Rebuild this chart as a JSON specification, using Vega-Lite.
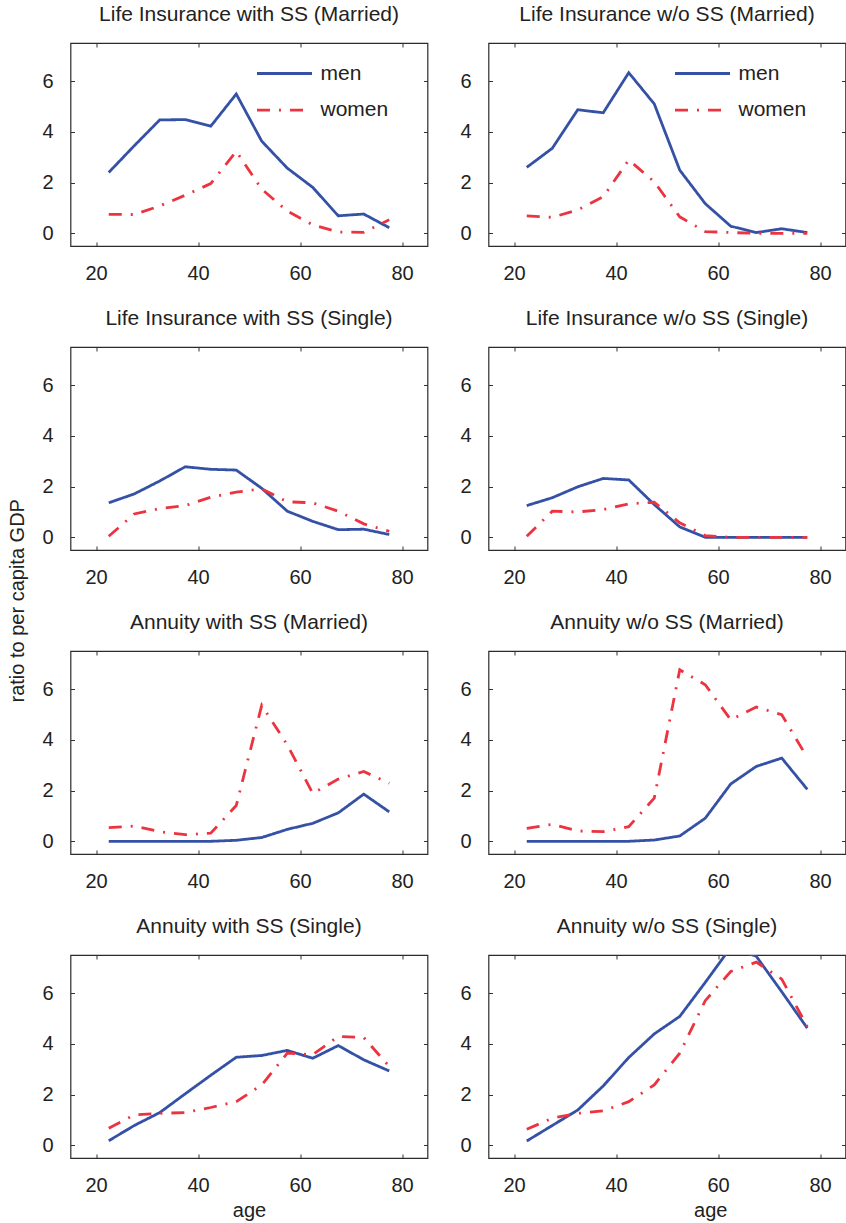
{
  "$schema": "https://vega.github.io/schema/vega-lite/v6.json",
  "padding": {"left": 6.5, "top": 2, "right": 0, "bottom": 3},
  "background": "white",
  "config": {
    "font": "Liberation Sans",
    "view": {"stroke": "#2b2b2b", "strokeWidth": 1.2},
    "axis": {"grid": false, "domain": false, "tickSize": -4, "tickColor": "#333333", "tickWidth": 1, "labelFontSize": 20, "labelColor": "#222222", "titleFontSize": 20, "titleColor": "#222222", "titleFontWeight": "normal", "labelFont": "Liberation Sans", "titleFont": "Liberation Sans"},
    "title": {"fontSize": 21, "fontWeight": "normal", "color": "#222222", "baseline": "alphabetic", "offset": 18, "font": "Liberation Sans"},
    "legend": {"orient": "none", "legendX": 185, "legendY": 20, "title": null, "symbolType": "stroke", "symbolSize": 3025, "symbolStrokeWidth": 2.8, "labelFontSize": 21, "labelColor": "#222222", "labelOffset": 7, "clipHeight": 21, "rowPadding": 14.6, "padding": 0, "labelFont": "Liberation Sans"}
  },
  "datasets": {
    "d": [
      {"p":1,"sex":"men","age":22.5,"v":2.40},{"p":1,"sex":"men","age":27.5,"v":3.45},{"p":1,"sex":"men","age":32.5,"v":4.47},{"p":1,"sex":"men","age":37.5,"v":4.48},{"p":1,"sex":"men","age":42.5,"v":4.22},{"p":1,"sex":"men","age":47.5,"v":5.49},{"p":1,"sex":"men","age":52.5,"v":3.63},{"p":1,"sex":"men","age":57.5,"v":2.57},{"p":1,"sex":"men","age":62.5,"v":1.81},{"p":1,"sex":"men","age":67.5,"v":0.69},{"p":1,"sex":"men","age":72.5,"v":0.76},{"p":1,"sex":"men","age":77.5,"v":0.22},
      {"p":1,"sex":"women","age":22.5,"v":0.75},{"p":1,"sex":"women","age":27.5,"v":0.74},{"p":1,"sex":"women","age":32.5,"v":1.08},{"p":1,"sex":"women","age":37.5,"v":1.50},{"p":1,"sex":"women","age":42.5,"v":1.96},{"p":1,"sex":"women","age":47.5,"v":3.23},{"p":1,"sex":"women","age":52.5,"v":1.74},{"p":1,"sex":"women","age":57.5,"v":0.88},{"p":1,"sex":"women","age":62.5,"v":0.33},{"p":1,"sex":"women","age":67.5,"v":0.05},{"p":1,"sex":"women","age":72.5,"v":0.04},{"p":1,"sex":"women","age":77.5,"v":0.53},
      {"p":2,"sex":"men","age":22.5,"v":2.60},{"p":2,"sex":"men","age":27.5,"v":3.35},{"p":2,"sex":"men","age":32.5,"v":4.87},{"p":2,"sex":"men","age":37.5,"v":4.75},{"p":2,"sex":"men","age":42.5,"v":6.33},{"p":2,"sex":"men","age":47.5,"v":5.10},{"p":2,"sex":"men","age":52.5,"v":2.49},{"p":2,"sex":"men","age":57.5,"v":1.17},{"p":2,"sex":"men","age":62.5,"v":0.28},{"p":2,"sex":"men","age":67.5,"v":0.03},{"p":2,"sex":"men","age":72.5,"v":0.18},{"p":2,"sex":"men","age":77.5,"v":0.03},
      {"p":2,"sex":"women","age":22.5,"v":0.69},{"p":2,"sex":"women","age":27.5,"v":0.63},{"p":2,"sex":"women","age":32.5,"v":0.92},{"p":2,"sex":"women","age":37.5,"v":1.44},{"p":2,"sex":"women","age":42.5,"v":2.89},{"p":2,"sex":"women","age":47.5,"v":2.03},{"p":2,"sex":"women","age":52.5,"v":0.65},{"p":2,"sex":"women","age":57.5,"v":0.07},{"p":2,"sex":"women","age":62.5,"v":0.03},{"p":2,"sex":"women","age":67.5,"v":0.0},{"p":2,"sex":"women","age":72.5,"v":0.0},{"p":2,"sex":"women","age":77.5,"v":0.0},
      {"p":3,"sex":"men","age":22.5,"v":1.36},{"p":3,"sex":"men","age":27.5,"v":1.71},{"p":3,"sex":"men","age":32.5,"v":2.22},{"p":3,"sex":"men","age":37.5,"v":2.78},{"p":3,"sex":"men","age":42.5,"v":2.68},{"p":3,"sex":"men","age":47.5,"v":2.65},{"p":3,"sex":"men","age":52.5,"v":1.93},{"p":3,"sex":"men","age":57.5,"v":1.03},{"p":3,"sex":"men","age":62.5,"v":0.63},{"p":3,"sex":"men","age":67.5,"v":0.30},{"p":3,"sex":"men","age":72.5,"v":0.32},{"p":3,"sex":"men","age":77.5,"v":0.11},
      {"p":3,"sex":"women","age":22.5,"v":0.04},{"p":3,"sex":"women","age":27.5,"v":0.92},{"p":3,"sex":"women","age":32.5,"v":1.13},{"p":3,"sex":"women","age":37.5,"v":1.25},{"p":3,"sex":"women","age":42.5,"v":1.58},{"p":3,"sex":"women","age":47.5,"v":1.78},{"p":3,"sex":"women","age":52.5,"v":1.91},{"p":3,"sex":"women","age":57.5,"v":1.40},{"p":3,"sex":"women","age":62.5,"v":1.36},{"p":3,"sex":"women","age":67.5,"v":1.03},{"p":3,"sex":"women","age":72.5,"v":0.53},{"p":3,"sex":"women","age":77.5,"v":0.24},
      {"p":4,"sex":"men","age":22.5,"v":1.25},{"p":4,"sex":"men","age":27.5,"v":1.56},{"p":4,"sex":"men","age":32.5,"v":1.99},{"p":4,"sex":"men","age":37.5,"v":2.32},{"p":4,"sex":"men","age":42.5,"v":2.26},{"p":4,"sex":"men","age":47.5,"v":1.29},{"p":4,"sex":"men","age":52.5,"v":0.41},{"p":4,"sex":"men","age":57.5,"v":0.0},{"p":4,"sex":"men","age":62.5,"v":0.0},{"p":4,"sex":"men","age":67.5,"v":0.0},{"p":4,"sex":"men","age":72.5,"v":0.0},{"p":4,"sex":"men","age":77.5,"v":0.0},
      {"p":4,"sex":"women","age":22.5,"v":0.04},{"p":4,"sex":"women","age":27.5,"v":1.03},{"p":4,"sex":"women","age":32.5,"v":1.00},{"p":4,"sex":"women","age":37.5,"v":1.09},{"p":4,"sex":"women","age":42.5,"v":1.32},{"p":4,"sex":"women","age":47.5,"v":1.38},{"p":4,"sex":"women","age":52.5,"v":0.57},{"p":4,"sex":"women","age":57.5,"v":0.07},{"p":4,"sex":"women","age":62.5,"v":0.0},{"p":4,"sex":"women","age":67.5,"v":0.0},{"p":4,"sex":"women","age":72.5,"v":0.0},{"p":4,"sex":"women","age":77.5,"v":0.0},
      {"p":5,"sex":"men","age":22.5,"v":0.0},{"p":5,"sex":"men","age":27.5,"v":0.0},{"p":5,"sex":"men","age":32.5,"v":0.0},{"p":5,"sex":"men","age":37.5,"v":0.0},{"p":5,"sex":"men","age":42.5,"v":0.0},{"p":5,"sex":"men","age":47.5,"v":0.04},{"p":5,"sex":"men","age":52.5,"v":0.15},{"p":5,"sex":"men","age":57.5,"v":0.47},{"p":5,"sex":"men","age":62.5,"v":0.71},{"p":5,"sex":"men","age":67.5,"v":1.12},{"p":5,"sex":"men","age":72.5,"v":1.86},{"p":5,"sex":"men","age":77.5,"v":1.16},
      {"p":5,"sex":"women","age":22.5,"v":0.54},{"p":5,"sex":"women","age":27.5,"v":0.60},{"p":5,"sex":"women","age":32.5,"v":0.38},{"p":5,"sex":"women","age":37.5,"v":0.26},{"p":5,"sex":"women","age":42.5,"v":0.32},{"p":5,"sex":"women","age":47.5,"v":1.41},{"p":5,"sex":"women","age":52.5,"v":5.36},{"p":5,"sex":"women","age":57.5,"v":3.80},{"p":5,"sex":"women","age":62.5,"v":1.89},{"p":5,"sex":"women","age":67.5,"v":2.45},{"p":5,"sex":"women","age":72.5,"v":2.75},{"p":5,"sex":"women","age":77.5,"v":2.29},
      {"p":6,"sex":"men","age":22.5,"v":0.0},{"p":6,"sex":"men","age":27.5,"v":0.0},{"p":6,"sex":"men","age":32.5,"v":0.0},{"p":6,"sex":"men","age":37.5,"v":0.0},{"p":6,"sex":"men","age":42.5,"v":0.0},{"p":6,"sex":"men","age":47.5,"v":0.05},{"p":6,"sex":"men","age":52.5,"v":0.21},{"p":6,"sex":"men","age":57.5,"v":0.91},{"p":6,"sex":"men","age":62.5,"v":2.26},{"p":6,"sex":"men","age":67.5,"v":2.95},{"p":6,"sex":"men","age":72.5,"v":3.28},{"p":6,"sex":"men","age":77.5,"v":2.05},
      {"p":6,"sex":"women","age":22.5,"v":0.51},{"p":6,"sex":"women","age":27.5,"v":0.67},{"p":6,"sex":"women","age":32.5,"v":0.41},{"p":6,"sex":"women","age":37.5,"v":0.38},{"p":6,"sex":"women","age":42.5,"v":0.58},{"p":6,"sex":"women","age":47.5,"v":1.70},{"p":6,"sex":"women","age":52.5,"v":6.76},{"p":6,"sex":"women","age":57.5,"v":6.17},{"p":6,"sex":"women","age":62.5,"v":4.79},{"p":6,"sex":"women","age":67.5,"v":5.29},{"p":6,"sex":"women","age":72.5,"v":4.99},{"p":6,"sex":"women","age":77.5,"v":3.30},
      {"p":7,"sex":"men","age":22.5,"v":0.18},{"p":7,"sex":"men","age":27.5,"v":0.78},{"p":7,"sex":"men","age":32.5,"v":1.29},{"p":7,"sex":"men","age":37.5,"v":2.03},{"p":7,"sex":"men","age":42.5,"v":2.76},{"p":7,"sex":"men","age":47.5,"v":3.47},{"p":7,"sex":"men","age":52.5,"v":3.54},{"p":7,"sex":"men","age":57.5,"v":3.74},{"p":7,"sex":"men","age":62.5,"v":3.43},{"p":7,"sex":"men","age":67.5,"v":3.93},{"p":7,"sex":"men","age":72.5,"v":3.37},{"p":7,"sex":"men","age":77.5,"v":2.93},
      {"p":7,"sex":"women","age":22.5,"v":0.67},{"p":7,"sex":"women","age":27.5,"v":1.20},{"p":7,"sex":"women","age":32.5,"v":1.26},{"p":7,"sex":"women","age":37.5,"v":1.29},{"p":7,"sex":"women","age":42.5,"v":1.49},{"p":7,"sex":"women","age":47.5,"v":1.72},{"p":7,"sex":"women","age":52.5,"v":2.38},{"p":7,"sex":"women","age":57.5,"v":3.63},{"p":7,"sex":"women","age":62.5,"v":3.57},{"p":7,"sex":"women","age":67.5,"v":4.29},{"p":7,"sex":"women","age":72.5,"v":4.25},{"p":7,"sex":"women","age":77.5,"v":3.11},
      {"p":8,"sex":"men","age":22.5,"v":0.17},{"p":8,"sex":"men","age":27.5,"v":0.78},{"p":8,"sex":"men","age":32.5,"v":1.39},{"p":8,"sex":"men","age":37.5,"v":2.34},{"p":8,"sex":"men","age":42.5,"v":3.46},{"p":8,"sex":"men","age":47.5,"v":4.39},{"p":8,"sex":"men","age":52.5,"v":5.08},{"p":8,"sex":"men","age":57.5,"v":6.42},{"p":8,"sex":"men","age":62.5,"v":7.80},{"p":8,"sex":"men","age":67.5,"v":7.45},{"p":8,"sex":"men","age":72.5,"v":6.05},{"p":8,"sex":"men","age":77.5,"v":4.62},
      {"p":8,"sex":"women","age":22.5,"v":0.63},{"p":8,"sex":"women","age":27.5,"v":1.07},{"p":8,"sex":"women","age":32.5,"v":1.26},{"p":8,"sex":"women","age":37.5,"v":1.36},{"p":8,"sex":"women","age":42.5,"v":1.72},{"p":8,"sex":"women","age":47.5,"v":2.38},{"p":8,"sex":"women","age":52.5,"v":3.63},{"p":8,"sex":"women","age":57.5,"v":5.70},{"p":8,"sex":"women","age":62.5,"v":6.85},{"p":8,"sex":"women","age":67.5,"v":7.22},{"p":8,"sex":"women","age":72.5,"v":6.55},{"p":8,"sex":"women","age":77.5,"v":4.68}
    ]
  },
  "columns": 2,
  "spacing": {"row": 101, "column": 61},
  "bounds": "flush",
  "resolve": {"scale": {"color": "independent", "strokeDash": "independent"}},
  "concat": [
    {
      "title": "Life Insurance with SS (Married)", "width": 357, "height": 203,
      "data": {"name": "d"}, "transform": [{"filter": "datum.p == 1"}],
      "layer": [
        {"mark": {"type": "line", "strokeWidth": 2.8, "clip": true},
         "encoding": {
           "x": {"field": "age", "type": "quantitative", "scale": {"domain": [15, 85], "nice": false, "zero": false}, "axis": {"orient": "bottom", "values": [20, 40, 60, 80], "labelPadding": 21, "title": null}},
           "y": {"field": "v", "type": "quantitative", "scale": {"domain": [-0.5, 7.5], "nice": false, "zero": false}, "axis": {"orient": "left", "values": [0, 2, 4, 6], "labelPadding": 21.5, "title": null}},
           "color": {"field": "sex", "type": "nominal", "scale": {"domain": ["men", "women"], "range": ["#3451A5", "#EC3340"]}},
           "strokeDash": {"field": "sex", "type": "nominal", "scale": {"domain": ["men", "women"], "range": [[1, 0], [13, 9, 2, 9]]}}
         }},
        {"mark": {"type": "point", "opacity": 0, "clip": true},
         "encoding": {
           "x": {"field": "age", "type": "quantitative", "scale": {"domain": [15, 85], "nice": false, "zero": false}, "axis": {"orient": "top", "values": [20, 40, 60, 80], "labels": false, "title": null}},
           "y": {"field": "v", "type": "quantitative", "scale": {"domain": [-0.5, 7.5], "nice": false, "zero": false}, "axis": {"orient": "right", "values": [0, 2, 4, 6], "labels": false, "title": null}}
         }}
      ],
      "resolve": {"axis": {"x": "independent", "y": "independent"}}
    },
    {
      "title": "Life Insurance w/o SS (Married)", "width": 357, "height": 203,
      "data": {"name": "d"}, "transform": [{"filter": "datum.p == 2"}],
      "layer": [
        {"mark": {"type": "line", "strokeWidth": 2.8, "clip": true},
         "encoding": {
           "x": {"field": "age", "type": "quantitative", "scale": {"domain": [15, 85], "nice": false, "zero": false}, "axis": {"orient": "bottom", "values": [20, 40, 60, 80], "labelPadding": 21, "title": null}},
           "y": {"field": "v", "type": "quantitative", "scale": {"domain": [-0.5, 7.5], "nice": false, "zero": false}, "axis": {"orient": "left", "values": [0, 2, 4, 6], "labelPadding": 21.5, "title": null}},
           "color": {"field": "sex", "type": "nominal", "scale": {"domain": ["men", "women"], "range": ["#3451A5", "#EC3340"]}},
           "strokeDash": {"field": "sex", "type": "nominal", "scale": {"domain": ["men", "women"], "range": [[1, 0], [13, 9, 2, 9]]}}
         }},
        {"mark": {"type": "point", "opacity": 0, "clip": true},
         "encoding": {
           "x": {"field": "age", "type": "quantitative", "scale": {"domain": [15, 85], "nice": false, "zero": false}, "axis": {"orient": "top", "values": [20, 40, 60, 80], "labels": false, "title": null}},
           "y": {"field": "v", "type": "quantitative", "scale": {"domain": [-0.5, 7.5], "nice": false, "zero": false}, "axis": {"orient": "right", "values": [0, 2, 4, 6], "labels": false, "title": null}}
         }}
      ],
      "resolve": {"axis": {"x": "independent", "y": "independent"}}
    },
    {
      "title": "Life Insurance with SS (Single)", "width": 357, "height": 203,
      "data": {"name": "d"}, "transform": [{"filter": "datum.p == 3"}],
      "layer": [
        {"mark": {"type": "line", "strokeWidth": 2.8, "clip": true},
         "encoding": {
           "x": {"field": "age", "type": "quantitative", "scale": {"domain": [15, 85], "nice": false, "zero": false}, "axis": {"orient": "bottom", "values": [20, 40, 60, 80], "labelPadding": 21, "title": null}},
           "y": {"field": "v", "type": "quantitative", "scale": {"domain": [-0.5, 7.5], "nice": false, "zero": false}, "axis": {"orient": "left", "values": [0, 2, 4, 6], "labelPadding": 21.5, "title": "ratio to per capita GDP", "titleX": -47, "titleY": 253.3, "titleAngle": 270, "titleBaseline": "alphabetic", "titleAlign": "center"}},
           "color": {"field": "sex", "type": "nominal", "scale": {"domain": ["men", "women"], "range": ["#3451A5", "#EC3340"]}, "legend": null},
           "strokeDash": {"field": "sex", "type": "nominal", "scale": {"domain": ["men", "women"], "range": [[1, 0], [13, 9, 2, 9]]}, "legend": null}
         }},
        {"mark": {"type": "point", "opacity": 0, "clip": true},
         "encoding": {
           "x": {"field": "age", "type": "quantitative", "scale": {"domain": [15, 85], "nice": false, "zero": false}, "axis": {"orient": "top", "values": [20, 40, 60, 80], "labels": false, "title": null}},
           "y": {"field": "v", "type": "quantitative", "scale": {"domain": [-0.5, 7.5], "nice": false, "zero": false}, "axis": {"orient": "right", "values": [0, 2, 4, 6], "labels": false, "title": null}}
         }}
      ],
      "resolve": {"axis": {"x": "independent", "y": "independent"}}
    },
    {
      "title": "Life Insurance w/o SS (Single)", "width": 357, "height": 203,
      "data": {"name": "d"}, "transform": [{"filter": "datum.p == 4"}],
      "layer": [
        {"mark": {"type": "line", "strokeWidth": 2.8, "clip": true},
         "encoding": {
           "x": {"field": "age", "type": "quantitative", "scale": {"domain": [15, 85], "nice": false, "zero": false}, "axis": {"orient": "bottom", "values": [20, 40, 60, 80], "labelPadding": 21, "title": null}},
           "y": {"field": "v", "type": "quantitative", "scale": {"domain": [-0.5, 7.5], "nice": false, "zero": false}, "axis": {"orient": "left", "values": [0, 2, 4, 6], "labelPadding": 21.5, "title": null}},
           "color": {"field": "sex", "type": "nominal", "scale": {"domain": ["men", "women"], "range": ["#3451A5", "#EC3340"]}, "legend": null},
           "strokeDash": {"field": "sex", "type": "nominal", "scale": {"domain": ["men", "women"], "range": [[1, 0], [13, 9, 2, 9]]}, "legend": null}
         }},
        {"mark": {"type": "point", "opacity": 0, "clip": true},
         "encoding": {
           "x": {"field": "age", "type": "quantitative", "scale": {"domain": [15, 85], "nice": false, "zero": false}, "axis": {"orient": "top", "values": [20, 40, 60, 80], "labels": false, "title": null}},
           "y": {"field": "v", "type": "quantitative", "scale": {"domain": [-0.5, 7.5], "nice": false, "zero": false}, "axis": {"orient": "right", "values": [0, 2, 4, 6], "labels": false, "title": null}}
         }}
      ],
      "resolve": {"axis": {"x": "independent", "y": "independent"}}
    },
    {
      "title": "Annuity with SS (Married)", "width": 357, "height": 203,
      "data": {"name": "d"}, "transform": [{"filter": "datum.p == 5"}],
      "layer": [
        {"mark": {"type": "line", "strokeWidth": 2.8, "clip": true},
         "encoding": {
           "x": {"field": "age", "type": "quantitative", "scale": {"domain": [15, 85], "nice": false, "zero": false}, "axis": {"orient": "bottom", "values": [20, 40, 60, 80], "labelPadding": 21, "title": null}},
           "y": {"field": "v", "type": "quantitative", "scale": {"domain": [-0.5, 7.5], "nice": false, "zero": false}, "axis": {"orient": "left", "values": [0, 2, 4, 6], "labelPadding": 21.5, "title": null}},
           "color": {"field": "sex", "type": "nominal", "scale": {"domain": ["men", "women"], "range": ["#3451A5", "#EC3340"]}, "legend": null},
           "strokeDash": {"field": "sex", "type": "nominal", "scale": {"domain": ["men", "women"], "range": [[1, 0], [13, 9, 2, 9]]}, "legend": null}
         }},
        {"mark": {"type": "point", "opacity": 0, "clip": true},
         "encoding": {
           "x": {"field": "age", "type": "quantitative", "scale": {"domain": [15, 85], "nice": false, "zero": false}, "axis": {"orient": "top", "values": [20, 40, 60, 80], "labels": false, "title": null}},
           "y": {"field": "v", "type": "quantitative", "scale": {"domain": [-0.5, 7.5], "nice": false, "zero": false}, "axis": {"orient": "right", "values": [0, 2, 4, 6], "labels": false, "title": null}}
         }}
      ],
      "resolve": {"axis": {"x": "independent", "y": "independent"}}
    },
    {
      "title": "Annuity w/o SS (Married)", "width": 357, "height": 203,
      "data": {"name": "d"}, "transform": [{"filter": "datum.p == 6"}],
      "layer": [
        {"mark": {"type": "line", "strokeWidth": 2.8, "clip": true},
         "encoding": {
           "x": {"field": "age", "type": "quantitative", "scale": {"domain": [15, 85], "nice": false, "zero": false}, "axis": {"orient": "bottom", "values": [20, 40, 60, 80], "labelPadding": 21, "title": null}},
           "y": {"field": "v", "type": "quantitative", "scale": {"domain": [-0.5, 7.5], "nice": false, "zero": false}, "axis": {"orient": "left", "values": [0, 2, 4, 6], "labelPadding": 21.5, "title": null}},
           "color": {"field": "sex", "type": "nominal", "scale": {"domain": ["men", "women"], "range": ["#3451A5", "#EC3340"]}, "legend": null},
           "strokeDash": {"field": "sex", "type": "nominal", "scale": {"domain": ["men", "women"], "range": [[1, 0], [13, 9, 2, 9]]}, "legend": null}
         }},
        {"mark": {"type": "point", "opacity": 0, "clip": true},
         "encoding": {
           "x": {"field": "age", "type": "quantitative", "scale": {"domain": [15, 85], "nice": false, "zero": false}, "axis": {"orient": "top", "values": [20, 40, 60, 80], "labels": false, "title": null}},
           "y": {"field": "v", "type": "quantitative", "scale": {"domain": [-0.5, 7.5], "nice": false, "zero": false}, "axis": {"orient": "right", "values": [0, 2, 4, 6], "labels": false, "title": null}}
         }}
      ],
      "resolve": {"axis": {"x": "independent", "y": "independent"}}
    },
    {
      "title": "Annuity with SS (Single)", "width": 357, "height": 203,
      "data": {"name": "d"}, "transform": [{"filter": "datum.p == 7"}],
      "layer": [
        {"mark": {"type": "line", "strokeWidth": 2.8, "clip": true},
         "encoding": {
           "x": {"field": "age", "type": "quantitative", "scale": {"domain": [15, 85], "nice": false, "zero": false}, "axis": {"orient": "bottom", "values": [20, 40, 60, 80], "labelPadding": 21, "title": "age", "titleY": 58.6, "titleBaseline": "alphabetic"}},
           "y": {"field": "v", "type": "quantitative", "scale": {"domain": [-0.5, 7.5], "nice": false, "zero": false}, "axis": {"orient": "left", "values": [0, 2, 4, 6], "labelPadding": 21.5, "title": null}},
           "color": {"field": "sex", "type": "nominal", "scale": {"domain": ["men", "women"], "range": ["#3451A5", "#EC3340"]}, "legend": null},
           "strokeDash": {"field": "sex", "type": "nominal", "scale": {"domain": ["men", "women"], "range": [[1, 0], [13, 9, 2, 9]]}, "legend": null}
         }},
        {"mark": {"type": "point", "opacity": 0, "clip": true},
         "encoding": {
           "x": {"field": "age", "type": "quantitative", "scale": {"domain": [15, 85], "nice": false, "zero": false}, "axis": {"orient": "top", "values": [20, 40, 60, 80], "labels": false, "title": null}},
           "y": {"field": "v", "type": "quantitative", "scale": {"domain": [-0.5, 7.5], "nice": false, "zero": false}, "axis": {"orient": "right", "values": [0, 2, 4, 6], "labels": false, "title": null}}
         }}
      ],
      "resolve": {"axis": {"x": "independent", "y": "independent"}}
    },
    {
      "title": "Annuity w/o SS (Single)", "width": 357, "height": 203,
      "data": {"name": "d"}, "transform": [{"filter": "datum.p == 8"}],
      "layer": [
        {"mark": {"type": "line", "strokeWidth": 2.8, "clip": true},
         "encoding": {
           "x": {"field": "age", "type": "quantitative", "scale": {"domain": [15, 85], "nice": false, "zero": false}, "axis": {"orient": "bottom", "values": [20, 40, 60, 80], "labelPadding": 21, "title": "age", "titleY": 58.6, "titleX": 221.7, "titleBaseline": "alphabetic"}},
           "y": {"field": "v", "type": "quantitative", "scale": {"domain": [-0.5, 7.5], "nice": false, "zero": false}, "axis": {"orient": "left", "values": [0, 2, 4, 6], "labelPadding": 21.5, "title": null}},
           "color": {"field": "sex", "type": "nominal", "scale": {"domain": ["men", "women"], "range": ["#3451A5", "#EC3340"]}, "legend": null},
           "strokeDash": {"field": "sex", "type": "nominal", "scale": {"domain": ["men", "women"], "range": [[1, 0], [13, 9, 2, 9]]}, "legend": null}
         }},
        {"mark": {"type": "point", "opacity": 0, "clip": true},
         "encoding": {
           "x": {"field": "age", "type": "quantitative", "scale": {"domain": [15, 85], "nice": false, "zero": false}, "axis": {"orient": "top", "values": [20, 40, 60, 80], "labels": false, "title": null}},
           "y": {"field": "v", "type": "quantitative", "scale": {"domain": [-0.5, 7.5], "nice": false, "zero": false}, "axis": {"orient": "right", "values": [0, 2, 4, 6], "labels": false, "title": null}}
         }}
      ],
      "resolve": {"axis": {"x": "independent", "y": "independent"}}
    }
  ]
}
